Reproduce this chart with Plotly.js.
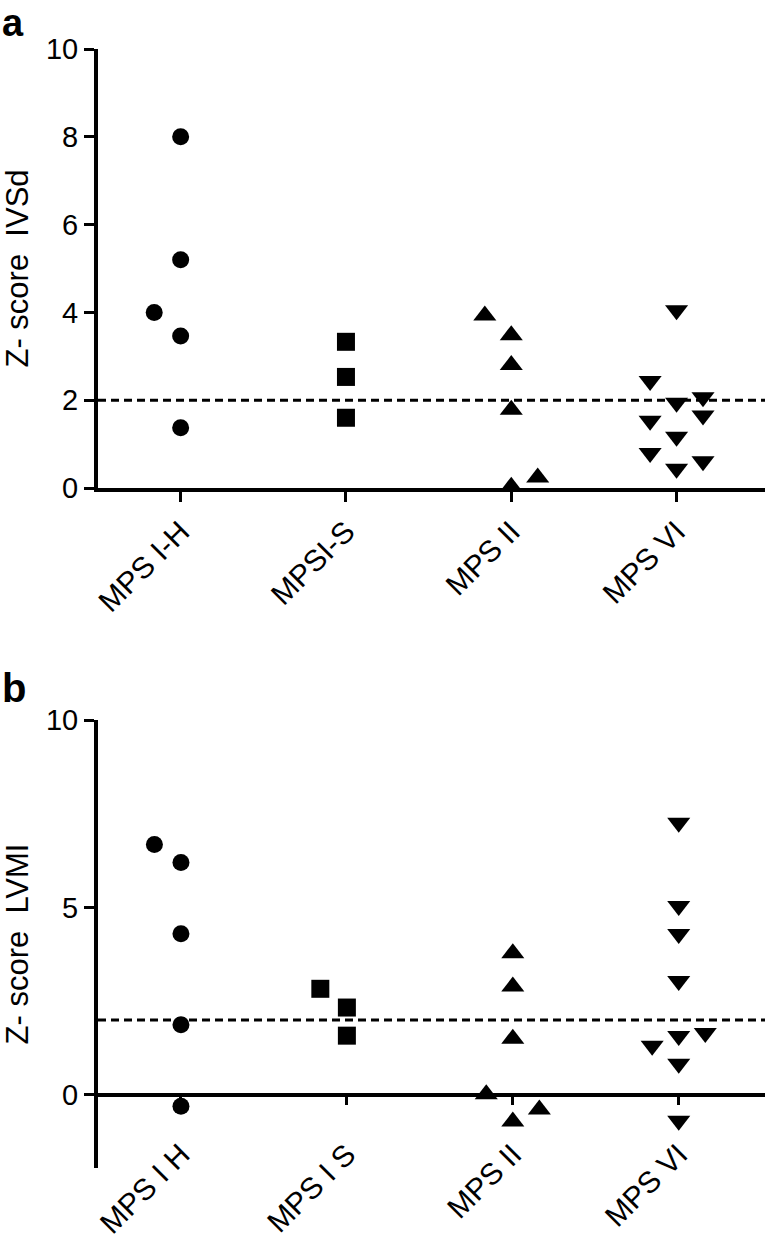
<!DOCTYPE html>
<html><head><meta charset="utf-8">
<script src="https://cdn.plot.ly/plotly-3.0.1.min.js"></script>
<style>html,body{margin:0;padding:0;background:#fff;} #chart{width:767px;height:1241px;}</style>
</head><body><div id="chart"></div>
<script>
// ---------- Panel a : Z-score IVSd ----------
const categoriesA = ['MPS I-H', 'MPSI-S', 'MPS II', 'MPS VI'];
const ivsdIH = [8.0, 5.2, 4.0, 3.46, 1.37];
const ivsdIHJitter = [0, 0, -0.16, 0, 0];
const ivsdIS = [3.33, 2.53, 1.6];
const ivsdISJitter = [0, 0, 0];
const ivsdII = [3.93, 3.48, 2.80, 1.78, 0.03, 0.24];
const ivsdIIJitter = [-0.16, 0, 0, 0, 0, 0.16];
const ivsdVI = [4.05, 2.44, 1.53, 0.80, 1.94, 1.17, 0.44, 2.07, 1.65, 0.61];
const ivsdVIJitter = [0, -0.16, -0.16, -0.16, 0, 0, 0, 0.16, 0.16, 0.16];
const yTicksA = [0, 2, 4, 6, 8, 10];

// ---------- Panel b : Z-score LVMI ----------
const categoriesB = ['MPS I H', 'MPS I S', 'MPS II', 'MPS VI'];
const lvmiIH = [6.68, 6.2, 4.3, 1.87, -0.3];
const lvmiIHJitter = [-0.16, 0, 0, 0, 0];
const lvmiIS = [2.83, 2.33, 1.58];
const lvmiISJitter = [-0.16, 0, 0];
const lvmiII = [3.78, 2.89, 1.50, 0.02, -0.71, -0.39];
const lvmiIIJitter = [0, 0, 0, -0.16, 0, 0.16];
const lvmiVI = [7.26, 5.04, 4.29, 3.04, 1.57, 0.83, -0.69, 1.31, 1.65];
const lvmiVIJitter = [0, 0, 0, 0, 0, 0, 0, -0.16, 0.16];
const yTicksB = [0, 5, 10];

const threshold = 2;

const FONT = 'Liberation Sans, Arial, Helvetica, sans-serif';
const symbols = ['circle', 'square', 'triangle-up', 'triangle-down'];
const sizes = [17, 18, 20, 20];

function mk(idx, vals, jit, xa, ya) {
  return {
    type: 'scatter', mode: 'markers', xaxis: xa, yaxis: ya,
    x: vals.map((v, i) => idx + jit[i]), y: vals,
    marker: {symbol: symbols[idx], size: sizes[idx], color: '#000', line: {width: 0}},
    cliponaxis: false, showlegend: false, hoverinfo: 'skip'
  };
}

const traces = [
  mk(0, ivsdIH, ivsdIHJitter, 'x', 'y'),
  mk(1, ivsdIS, ivsdISJitter, 'x', 'y'),
  mk(2, ivsdII, ivsdIIJitter, 'x', 'y'),
  mk(3, ivsdVI, ivsdVIJitter, 'x', 'y'),
  mk(0, lvmiIH, lvmiIHJitter, 'x2', 'y2'),
  mk(1, lvmiIS, lvmiISJitter, 'x2', 'y2'),
  mk(2, lvmiII, lvmiIIJitter, 'x2', 'y2'),
  mk(3, lvmiVI, lvmiVIJitter, 'x2', 'y2')
];

const W = 767, H = 1241, L = 98, R = 2, T = 49, B = 73;
const plotW = W - L - R, plotH = H - T - B;
const fy = y => (H - B - y) / plotH;   // page pixel row -> paper fraction

const rangeYB = [-1.95, 10];
const domB = [0, fy(720)];
const zeroPosB = domB[0] + (0 - rangeYB[0]) / (rangeYB[1] - rangeYB[0]) * (domB[1] - domB[0]);

const axLine = {showline: true, linecolor: '#000', linewidth: 4, showgrid: false, zeroline: false,
  ticks: 'outside', ticklen: 10, tickwidth: 3, tickcolor: '#000'};
const tickIdx = [0, 1, 2, 3];

const layout = {
  width: W, height: H,
  margin: {l: L, r: R, t: T, b: B, pad: 0},
  paper_bgcolor: '#fff', plot_bgcolor: '#fff',
  font: {family: FONT, color: '#000'},
  showlegend: false,
  xaxis: Object.assign({}, axLine, {
    anchor: 'y', range: [-0.5, 3.535], tickvals: tickIdx, ticktext: categoriesA,
    tickangle: -45, tickfont: {size: 30, family: FONT}
  }),
  yaxis: Object.assign({}, axLine, {
    anchor: 'x', domain: [fy(488), 1], range: [0, 10], tickvals: yTicksA,
    tickfont: {size: 29, family: FONT},
    title: {text: 'Z- score\u00A0 IVSd', font: {size: 31, family: FONT}, standoff: 10}
  }),
  xaxis2: Object.assign({}, axLine, {
    anchor: 'free', position: zeroPosB, range: [-0.5, 3.52], domain: [0, 1],
    tickvals: tickIdx, ticktext: categoriesB, tickangle: -45, tickfont: {size: 30, family: FONT},
    ticklen: 8, ticklabelstandoff: 20
  }),
  yaxis2: Object.assign({}, axLine, {
    anchor: 'x2', domain: domB, range: rangeYB, tickvals: yTicksB,
    tickfont: {size: 29, family: FONT},
    title: {text: 'Z- score\u00A0 LVMI', font: {size: 31, family: FONT}, standoff: 10}
  }),
  shapes: [
    {type: 'line', xref: 'x domain', x0: 0, x1: 1, yref: 'y', y0: threshold, y1: threshold,
     line: {color: '#000', width: 3, dash: '8px,5px'}},
    {type: 'line', xref: 'x2 domain', x0: 0, x1: 1, yref: 'y2', y0: threshold, y1: threshold,
     line: {color: '#000', width: 3, dash: '8px,5px'}}
  ],
  annotations: [
    {text: '<b>a</b>', xref: 'paper', yref: 'paper', x: -L / plotW, y: 1 + T / plotH,
     xanchor: 'left', yanchor: 'top', showarrow: false, font: {size: 38, family: FONT}},
    {text: '<b>b</b>', xref: 'paper', yref: 'paper', x: -L / plotW, y: fy(688),
     xanchor: 'left', yanchor: 'middle', showarrow: false, font: {size: 40, family: FONT}}
  ]
};

Plotly.newPlot('chart', traces, layout, {staticPlot: true, displayModeBar: false});
</script>
</body></html>
